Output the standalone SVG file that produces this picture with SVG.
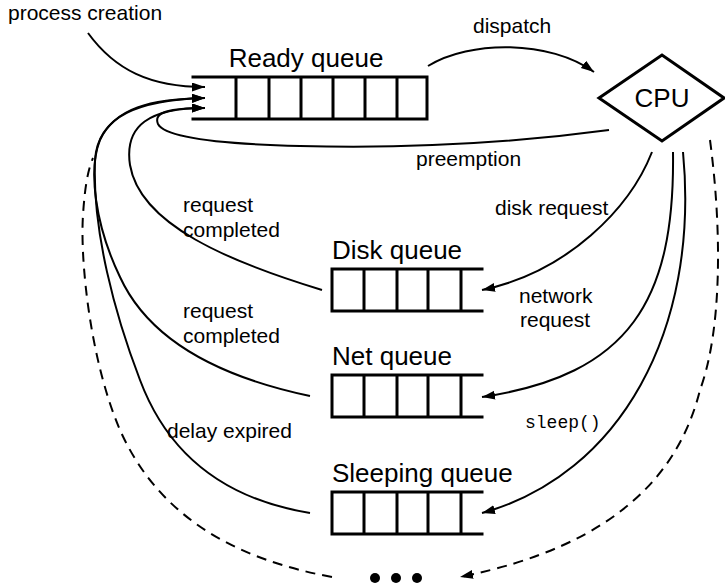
<svg xmlns="http://www.w3.org/2000/svg" width="725" height="583" viewBox="0 0 725 583">
  <style>
    .q { fill: none; stroke: #000; stroke-width: 3; stroke-linecap: square; }
    .edge { fill: none; stroke: #000; stroke-width: 2; }
    .dash { fill: none; stroke: #000; stroke-width: 2; stroke-dasharray: 10 7; }
    .title { font-family: "Liberation Sans", Arial, Helvetica, sans-serif; font-size: 26px; fill: #000; }
    .lbl { font-family: "Liberation Sans", Arial, Helvetica, sans-serif; font-size: 21px; fill: #000; }
    .mono { font-family: "Liberation Mono", "Courier New", monospace; font-size: 18px; fill: #000; }
  </style>
  <defs>
    <marker id="arrow" markerWidth="14" markerHeight="10" refX="13" refY="4.5" orient="auto" markerUnits="userSpaceOnUse">
      <path d="M0,0 L13,4.5 L0,9 z" fill="#000"/>
    </marker>
  </defs>
  <rect width="725" height="583" fill="#fff"/>

  <!-- Ready queue: open on the left, seven cells -->
  <g id="ready-queue">
    <text class="title" x="306" y="67" text-anchor="middle">Ready queue</text>
    <path class="q" d="M193,77 H427 M193,119 H427 M236,77 V119 M269,77 V119 M301,77 V119 M333,77 V119 M365,77 V119 M397,77 V119 M427,77 V119"/>
  </g>

  <!-- CPU -->
  <g id="cpu">
    <path d="M599,98 L662,55 L724,98 L662,141 Z" fill="none" stroke="#000" stroke-width="3" stroke-linejoin="miter"/>
    <text class="title" x="662" y="107" text-anchor="middle">CPU</text>
  </g>

  <!-- Device and sleep queues: closed on the left, open on the right -->
  <g id="disk-queue">
    <text class="title" x="332" y="259">Disk queue</text>
    <path class="q" d="M332,269 H482 M332,311 H482 M332,269 V311 M364,269 V311 M397,269 V311 M428,269 V311 M461,269 V311"/>
  </g>
  <g id="net-queue">
    <text class="title" x="332" y="365">Net queue</text>
    <path class="q" d="M332,375 H482 M332,417 H482 M332,375 V417 M364,375 V417 M397,375 V417 M428,375 V417 M461,375 V417"/>
  </g>
  <g id="sleeping-queue">
    <text class="title" x="332" y="482">Sleeping queue</text>
    <path class="q" d="M332,492 H482 M332,534 H482 M332,492 V534 M364,492 V534 M397,492 V534 M428,492 V534 M461,492 V534"/>
  </g>

  <!-- other waiting queues -->
  <g id="more-queues">
    <circle cx="375" cy="578" r="5"/>
    <circle cx="396" cy="578" r="5"/>
    <circle cx="417" cy="578" r="5"/>
  </g>

  <g id="connectors">
    <!-- process creation -> ready queue -->
    <path class="edge" d="M88,33 C115,70 150,87 205,87" marker-end="url(#arrow)"/>
    <!-- dispatch -->
    <path class="edge" d="M428,66 C470,40 550,40 594,72" marker-end="url(#arrow)"/>
    <!-- preemption -->
    <path class="edge" d="M609,130 C520,142 420,149 300,146 C220,144 165,138 158,124 C153,112 170,108 205,108" marker-end="url(#arrow)"/>
    <!-- CPU -> disk queue -->
    <path class="edge" d="M652,152 C630,208 568,272 482,290" marker-end="url(#arrow)"/>
    <!-- CPU -> net queue -->
    <path class="edge" d="M673,152 C675,300 630,375 482,397" marker-end="url(#arrow)"/>
    <!-- CPU -> sleeping queue -->
    <path class="edge" d="M683,152 C700,330 620,475 482,513" marker-end="url(#arrow)"/>
    <!-- disk request completed -->
    <path class="edge" d="M322,290 C230,262 140,225 130,165 C124,125 150,108 205,108" marker-end="url(#arrow)"/>
    <!-- net request completed -->
    <path class="edge" d="M310,396 C215,376 148,338 120,277 C95,225 88,170 100,140 C115,108 150,99 205,98" marker-end="url(#arrow)"/>
    <!-- delay expired -->
    <path class="edge" d="M310,513 C230,500 170,460 140,380 C115,315 92,230 95,160 C98,115 140,100 205,98" marker-end="url(#arrow)"/>
    <!-- other queues -->
    <path class="dash" d="M710,140 C722,230 722,330 700,390 C680,470 620,545 460,577" marker-end="url(#arrow)"/>
    <path class="dash" d="M332,577 C240,560 160,520 120,430 C90,360 80,260 83,215 C85,185 88,170 93,158"/>

    <text class="lbl" x="8" y="20">process creation</text>
    <text class="lbl" x="473" y="33">dispatch</text>
    <text class="lbl" x="416" y="166">preemption</text>
    <text class="lbl" x="495" y="215">disk request</text>
    <text class="lbl" x="519" y="303">network</text>
    <text class="lbl" x="520" y="327">request</text>
    <text class="mono" x="525" y="428">sleep()</text>
    <text class="lbl" x="183" y="212">request</text>
    <text class="lbl" x="183" y="237">completed</text>
    <text class="lbl" x="183" y="318">request</text>
    <text class="lbl" x="183" y="343">completed</text>
    <text class="lbl" x="167" y="438">delay expired</text>
  </g>
</svg>
